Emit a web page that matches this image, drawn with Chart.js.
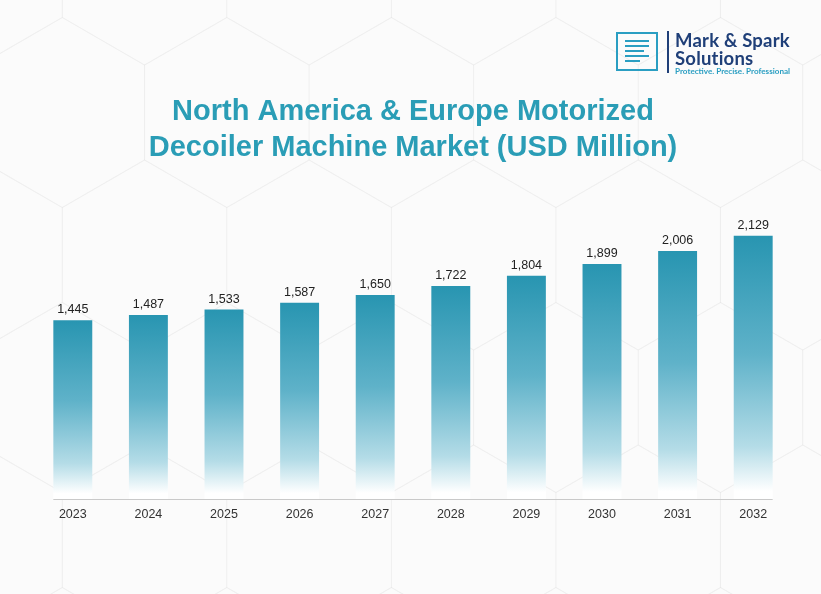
<!DOCTYPE html>
<html>
<head>
<meta charset="utf-8">
<script src="https://cdn.jsdelivr.net/npm/chart.js@4.4.1/dist/chart.umd.min.js"></script>
<style>
  html, body { margin: 0; padding: 0; background: #fbfbfb; }
  #wrap { position: relative; width: 821px; height: 594px; overflow: hidden; }
  #chart { position: absolute; left: 0; top: 0; }
  .logo { position: absolute; left: 616px; top: 31px; width: 200px; height: 44px; font-family: "Lato", sans-serif; }
  .logo .icon { position: absolute; left: 0; top: 1px; width: 42px; height: 39px; border: 2px solid #2a9ec2; box-sizing: border-box; }
  .logo .icon i { position: absolute; left: 7px; height: 2px; background: #2a9ec2; }
  .logo .bar { position: absolute; left: 51px; top: 0; width: 2px; height: 42px; background: #1f3f78; }
  .logo .t1 { position: absolute; left: 59px; top: -2px; font-size: 18.5px; font-weight: bold; color: #1f3f78; white-space: nowrap; letter-spacing: 0.2px; }
  .logo .t2 { position: absolute; left: 59px; top: 16px; font-size: 18.5px; font-weight: bold; color: #1f3f78; white-space: nowrap; letter-spacing: 0.2px; }
  .logo .t3 { position: absolute; left: 59px; top: 35px; font-size: 8.1px; font-weight: bold; color: #2a9ec2; white-space: nowrap; }
</style>
</head>
<body>
<div id="wrap">
  <canvas id="chart" width="821" height="594"></canvas>
  <div class="logo">
    <div class="icon">
      <i style="top:6px;width:24px"></i>
      <i style="top:11px;width:24px"></i>
      <i style="top:16px;width:19px"></i>
      <i style="top:21px;width:24px"></i>
      <i style="top:26px;width:15px"></i>
    </div>
    <div class="bar"></div>
    <div class="t1">Mark &amp; Spark</div>
    <div class="t2">Solutions</div>
    <div class="t3">Protective. Precise. Professional</div>
  </div>
</div>
<script>
  const years = ['2023', '2024', '2025', '2026', '2027', '2028', '2029', '2030', '2031', '2032'];
  const marketValues = [1445, 1487, 1533, 1587, 1650, 1722, 1804, 1899, 2006, 2129];
  const titleLines = ['North America & Europe Motorized', 'Decoiler Machine Market (USD Million)'];

  const TEAL = '#2a97b2';

  function barGradient(context) {
    const chart = context.chart;
    const area = chart.chartArea;
    if (!area) return TEAL;
    const yScale = chart.scales.y;
    const top = yScale.getPixelForValue(context.raw);
    const bottom = yScale.getPixelForValue(0);
    const g = chart.ctx.createLinearGradient(0, top, 0, bottom);
    g.addColorStop(0, '#2895b1');
    g.addColorStop(0.45, '#5fb2c9');
    g.addColorStop(0.8, '#b4dce7');
    g.addColorStop(0.97, '#ffffff');
    g.addColorStop(1, '#ffffff');
    return g;
  }

  // faint hexagon lines in the background
  const hexBackground = {
    id: 'hexBackground',
    beforeDraw(chart) {
      const ctx = chart.ctx;
      const r = 95;
      const w = Math.sqrt(3) * r;
      ctx.save();
      ctx.strokeStyle = 'rgba(0, 0, 0, 0.028)';
      ctx.lineWidth = 1.2;
      for (let row = -1; row < 6; row++) {
        for (let col = -1; col < 7; col++) {
          const cx = col * w + (row % 2 ? w / 2 : 0) - 20;
          const cy = row * r * 1.5 - 30;
          ctx.beginPath();
          for (let k = 0; k < 6; k++) {
            const a = Math.PI / 6 + k * Math.PI / 3;
            const px = cx + r * Math.cos(a), py = cy + r * Math.sin(a);
            if (k === 0) ctx.moveTo(px, py); else ctx.lineTo(px, py);
          }
          ctx.closePath();
          ctx.stroke();
        }
      }
      ctx.restore();
    }
  };

  // value labels above bars + short baseline under the bars
  const barExtras = {
    id: 'barExtras',
    afterDatasetsDraw(chart) {
      const ctx = chart.ctx;
      const bars = chart.getDatasetMeta(0).data;
      ctx.save();
      ctx.font = '12.5px "Liberation Sans", Arial, sans-serif';
      ctx.fillStyle = '#222';
      ctx.textAlign = 'center';
      ctx.textBaseline = 'bottom';
      bars.forEach((bar, i) => {
        ctx.fillText(marketValues[i].toLocaleString('en-US'), bar.x, bar.y - 4);
      });
      const first = bars[0], last = bars[bars.length - 1];
      const base = chart.scales.y.getPixelForValue(0);
      ctx.strokeStyle = '#c9c9c9';
      ctx.lineWidth = 1;
      ctx.beginPath();
      ctx.moveTo(first.x - first.width / 2, base + 0.5);
      ctx.lineTo(last.x + last.width / 2, base + 0.5);
      ctx.stroke();
      ctx.restore();
    }
  };

  window.addEventListener('DOMContentLoaded', () => {
    const ctx = document.getElementById('chart').getContext('2d');
    new Chart(ctx, {
      type: 'bar',
      data: {
        labels: years,
        datasets: [{
          data: marketValues,
          backgroundColor: barGradient,
          borderWidth: 0,
          barPercentage: 0.515,
          categoryPercentage: 1
        }]
      },
      options: {
        responsive: false,
        animation: false,
        layout: { padding: { left: 35, right: 30, bottom: 72 } },
        plugins: {
          legend: { display: false },
          tooltip: { enabled: false },
          title: {
            display: true,
            text: titleLines,
            color: '#2a9db6',
            font: { family: '"Liberation Sans", Arial, sans-serif', size: 29, weight: 'bold', lineHeight: 1.24 },
            padding: { top: 94, bottom: 34 }
          }
        },
        scales: {
          x: {
            grid: { display: false },
            border: { display: false },
            ticks: {
              color: '#333',
              padding: 0,
              font: { family: '"Liberation Sans", Arial, sans-serif', size: 12.5 }
            }
          },
          y: {
            display: false,
            min: 0,
            max: 2418
          }
        }
      },
      plugins: [hexBackground, barExtras]
    });
  });
</script>
</body>
</html>
